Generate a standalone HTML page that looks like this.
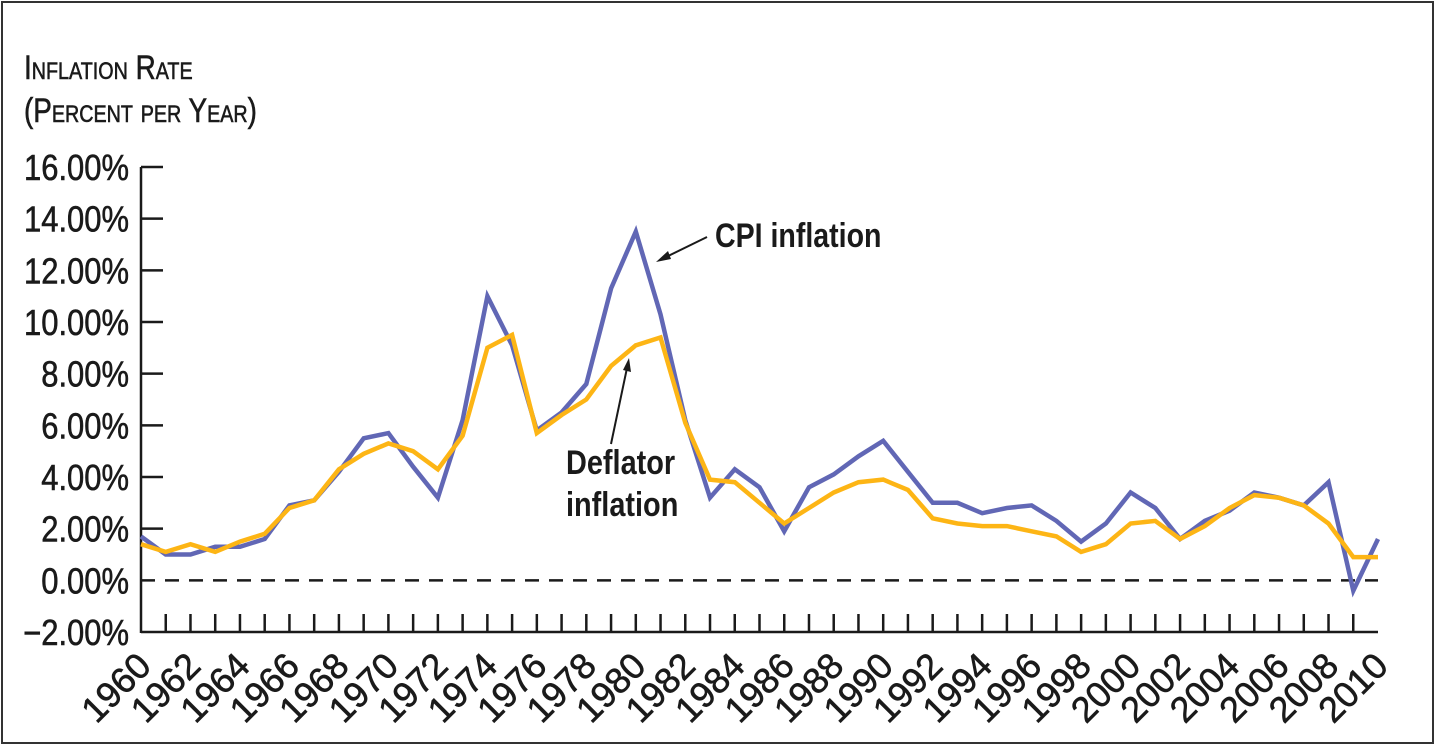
<!DOCTYPE html>
<html><head><meta charset="utf-8"><style>
html,body{margin:0;padding:0;background:#fff;}
svg{display:block;}
text{font-family:"Liberation Sans Narrow","Liberation Sans",sans-serif;fill:#1a1a1a;}
.med{stroke:#1a1a1a;stroke-width:0.6;}
</style></head><body>
<svg id="chart" width="1436" height="747" viewBox="0 0 1436 747" xmlns="http://www.w3.org/2000/svg">
<rect x="2" y="2" width="1431" height="741" fill="#fff" stroke="#333" stroke-width="2"/>
<text class="med" transform="translate(24,79) scale(0.82,1)" font-size="34" style="font-variant:small-caps">Inflation Rate</text>
<text class="med" transform="translate(24,122) scale(0.82,1)" font-size="34" style="font-variant:small-caps">(Percent per Year)</text>
<g id="axes"></g>
<g id="series"></g>
<text transform="translate(715,247) scale(0.84,1)" font-size="34" font-weight="bold">CPI inflation</text>
<line x1="707" y1="237" x2="662" y2="259" stroke="#1a1a1a" stroke-width="2"/>
<polygon points="656,262 668,251 671,259" fill="#1a1a1a"/>
<text transform="translate(566,474) scale(0.85,1)" font-size="34" font-weight="bold">Deflator</text>
<text transform="translate(566,516) scale(0.85,1)" font-size="34" font-weight="bold">inflation</text>
<line x1="611" y1="444" x2="627" y2="368" stroke="#1a1a1a" stroke-width="2"/>
<polygon points="629,358 631,372 623,370" fill="#1a1a1a"/>
</svg>
<script>
const years = [1960,1961,1962,1963,1964,1965,1966,1967,1968,1969,1970,1971,1972,1973,1974,1975,1976,1977,1978,1979,1980,1981,1982,1983,1984,1985,1986,1987,1988,1989,1990,1991,1992,1993,1994,1995,1996,1997,1998,1999,2000,2001,2002,2003,2004,2005,2006,2007,2008,2009,2010];
const cpiValues = [1.7,1.0,1.0,1.3,1.3,1.6,2.9,3.1,4.2,5.5,5.7,4.4,3.2,6.2,11.0,9.1,5.8,6.5,7.6,11.3,13.5,10.3,6.2,3.2,4.3,3.6,1.9,3.6,4.1,4.8,5.4,4.2,3.0,3.0,2.6,2.8,2.9,2.3,1.5,2.2,3.4,2.8,1.6,2.3,2.7,3.4,3.2,2.9,3.8,-0.4,1.6];
const deflatorValues = [1.4,1.1,1.4,1.1,1.5,1.8,2.8,3.1,4.3,4.9,5.3,5.0,4.3,5.6,9.0,9.5,5.7,6.4,7.0,8.3,9.1,9.4,6.1,3.9,3.8,3.0,2.2,2.8,3.4,3.8,3.9,3.5,2.4,2.2,2.1,2.1,1.9,1.7,1.1,1.4,2.2,2.3,1.6,2.1,2.8,3.3,3.2,2.9,2.2,0.9,0.9];
const yTicks = [-2,0,2,4,6,8,10,12,14,16];
const yTickLabels = ["\u22122.00%","0.00%","2.00%","4.00%","6.00%","8.00%","10.00%","12.00%","14.00%","16.00%"];
const xTickLabels = ["1960","1962","1964","1966","1968","1970","1972","1974","1976","1978","1980","1982","1984","1986","1988","1990","1992","1994","1996","1998","2000","2002","2004","2006","2008","2010"];

const NS="http://www.w3.org/2000/svg";
const X0=141, X1=1378, Y0=632, Y1=167;
function xs(yr){return X0+(yr-1960)/(2010-1960)*(X1-X0);}
function ys(v){return Y0-(v+2)/18*(Y0-Y1);}
function mk(tag,attrs,parent){const e=document.createElementNS(NS,tag);for(const k in attrs)e.setAttribute(k,attrs[k]);parent.appendChild(e);return e;}
const axes=document.getElementById('axes');
let e;
e=mk('line',{x1:X0,y1:Y1,x2:X0,y2:Y0+1,stroke:'#1a1a1a','stroke-width':2.5},axes);


e=mk('line',{x1:X0,y1:Y0,x2:X1,y2:Y0,stroke:'#1a1a1a','stroke-width':2.5},axes);


e=mk('line',{x1:X0,y1:ys(0),x2:X1,y2:ys(0),stroke:'#1a1a1a','stroke-width':2.5,'stroke-dasharray':'14,10'},axes);


yTicks.forEach((v,i)=>{
  const y=ys(v);
  if(v>0){
    const t=mk('line',{x1:X0,y1:y,x2:X0+22,y2:y,stroke:'#1a1a1a','stroke-width':2.5},axes);
    
    
  }
  const l=mk('text',{x:0,y:0,'font-size':36,'text-anchor':'end','class':'med',transform:`translate(129,${y+13}) scale(0.86,1)`},axes);
  l.textContent=yTickLabels[i];
  
  
});
for(let yr=1961;yr<=2009;yr++){
  const x=xs(yr);
  const t=mk('line',{x1:x,y1:Y0,x2:x,y2:Y0-18,stroke:'#1a1a1a','stroke-width':2.5},axes);
  
  
}
xTickLabels.forEach(lab=>{
  const x=xs(+lab);
  const l=mk('text',{x:0,y:0,'font-size':36,'text-anchor':'end','class':'med',transform:`translate(${x+12},668) rotate(-45)`},axes);
  l.textContent=lab;
  
  
});
const series=document.getElementById('series');
function pts(vals){return vals.map((v,i)=>xs(years[i]).toFixed(1)+','+ys(v).toFixed(1)).join(' ');}
e=mk('polyline',{points:pts(cpiValues),fill:'none',stroke:'#6167b5','stroke-width':4.5,'stroke-linejoin':'miter'},series);


e=mk('polyline',{points:pts(deflatorValues),fill:'none',stroke:'#fdb515','stroke-width':4.5,'stroke-linejoin':'miter'},series);


</script>
</body></html>
